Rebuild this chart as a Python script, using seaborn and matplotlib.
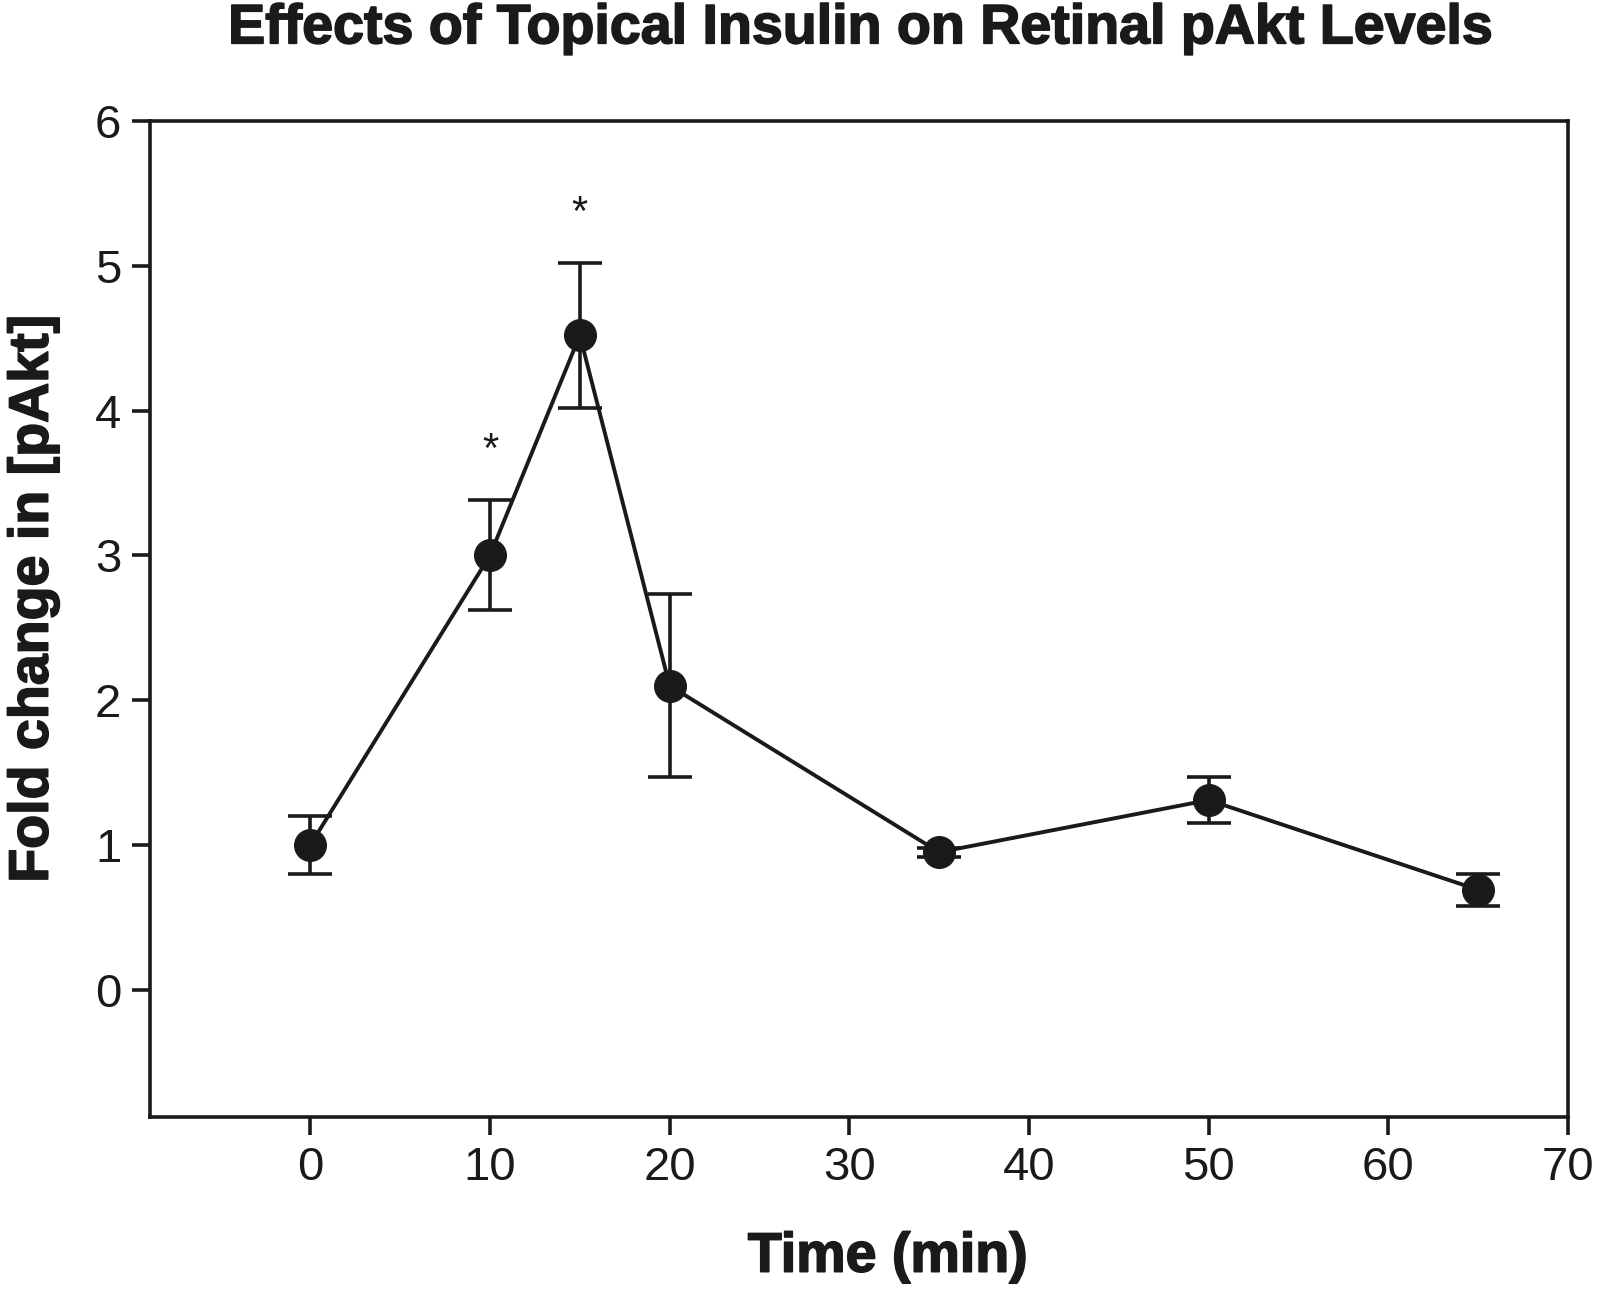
import numpy as np
import pandas as pd
import matplotlib
matplotlib.use("Agg")
import matplotlib.pyplot as plt
import matplotlib.patheffects as pe
import seaborn as sns

# datos
time_min = [0, 10, 15, 20, 35, 50, 65]
fold_change = [1.0, 3.0, 4.52, 2.1, 0.95, 1.31, 0.69]
sem = [0.2, 0.38, 0.5, 0.63, 0.03, 0.16, 0.11]
star_x = [10, 15]
star_y = [3.72, 5.36]

df = pd.DataFrame({"Time (min)": time_min, "Fold": fold_change, "err": sem})

sns.set_style("ticks")
plt.rcParams['font.family'] = ['Liberation Sans', 'DejaVu Sans']

fig = plt.figure(figsize=(16, 13.02), dpi=100)
ax = fig.add_axes([0.094, 0.142, 0.886, 0.765])

ink = "#1a1a1a"
ax.errorbar(df["Time (min)"], df["Fold"], yerr=df["err"], fmt="none",
            ecolor=ink, elinewidth=2.6, capsize=16, capthick=2.6, zorder=2)
sns.lineplot(data=df, x="Time (min)", y="Fold", ax=ax, color=ink,
             linewidth=2.8, marker="o", markersize=23, markeredgecolor=ink,
             markerfacecolor=ink, zorder=3)

for x, y in zip(star_x, star_y):
    ax.text(x, y, "*", ha="center", va="center", fontsize=30, color=ink)

ax.set_xlim(-8.9, 70)
ax.set_ylim(-0.88, 6)
ax.set_xticks(range(0, 71, 10))
ax.set_yticks(range(0, 7))

for s in ax.spines.values():
    s.set_linewidth(2.6)
    s.set_color(ink)
ax.tick_params(direction="out", length=13, width=2.6, colors=ink,
               labelsize=34, pad=8)

bold = [pe.withStroke(linewidth=1.2, foreground=ink)]
ax.set_xlabel("Time (min)", fontsize=40, fontweight="bold", color=ink,
              path_effects=bold)
ax.set_ylabel("Fold change in [pAkt]", fontsize=40, fontweight="bold", color=ink,
              path_effects=bold)
ax.xaxis.set_label_coords(0.52, -0.115)
ax.yaxis.set_label_coords(-0.064, 0.52)
ax.set_title("Effects of Topical Insulin on Retinal pAkt Levels", fontsize=40,
             fontweight="bold", color=ink, pad=56, path_effects=bold)

fig.savefig("out.png", dpi=100)
